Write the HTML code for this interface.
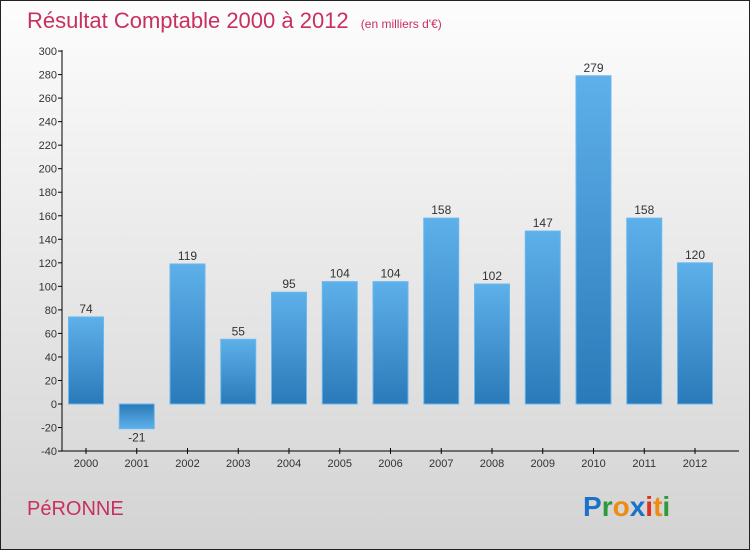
<!DOCTYPE html>
<html><head><meta charset="utf-8"><style>
body{margin:0}
#c{position:relative;width:748px;height:548px;border:1px solid #222;background:linear-gradient(#fdfdfd,#f0f0f0 30%,#d3d3d3);font-family:"Liberation Sans",sans-serif;overflow:hidden}
</style></head><body>
<div id="c">
<svg width="748" height="548">
<defs>
<linearGradient id="gp" x1="0" y1="0" x2="0" y2="1"><stop offset="0" stop-color="#5eb0ea"/><stop offset="1" stop-color="#2a7ab9"/></linearGradient>
<linearGradient id="gn" x1="0" y1="0" x2="0" y2="1"><stop offset="0" stop-color="#2a7ab9"/><stop offset="1" stop-color="#5eb0ea"/></linearGradient>
</defs>
<text x="26" y="27" font-size="22" fill="#c8305f">Résultat Comptable 2000 à 2012 <tspan font-size="12" dx="6">(en milliers d'€)</tspan></text>
<g id="axes"></g><g id="bars"></g>
<text x="26" y="514" font-size="20" fill="#c8305f">PéRONNE</text>
<text x="582" y="515" font-size="28" font-weight="bold"><tspan fill="#1a73c9">P</tspan><tspan fill="#2e9a3c">r</tspan><tspan fill="#f08a10">o</tspan><tspan fill="#1a73c9">x</tspan><tspan fill="#e03020">i</tspan><tspan fill="#f08a10">t</tspan><tspan fill="#2e9a3c">i</tspan></text>
</svg></div>
<script>
const categories=["2000","2001","2002","2003","2004","2005","2006","2007","2008","2009","2010","2011","2012"];
const values=[74,-21,119,55,95,104,104,158,102,147,279,158,120];
const tickValues=[-40,-20,0,20,40,60,80,100,120,140,160,180,200,220,240,260,280,300];
const NS="http://www.w3.org/2000/svg";
const y=v=>403-v*400/340;
const x=i=>85+i*50.75;
function mk(t,a,p){const e=document.createElementNS(NS,t);for(const k in a)e.setAttribute(k,a[k]);p.appendChild(e);return e;}
const ax=document.getElementById('axes'),bg=document.getElementById('bars');
let l=mk('line',{x1:61,y1:49,x2:61,y2:450,stroke:'#000'},ax);


l=mk('line',{x1:61,y1:450,x2:738,y2:450,stroke:'#000'},ax);


tickValues.forEach(v=>{
 const t=mk('line',{x1:57,x2:61,y1:y(v),y2:y(v),stroke:'#000'},ax);
 
 
 const tx=mk('text',{x:56,y:y(v)+4,'font-size':11,fill:'#333','text-anchor':'end'},ax);
 tx.textContent=v;
 
 
});
categories.forEach((c,i)=>{
 const cx=x(i),v=values[i];
 const t=mk('line',{x1:cx,x2:cx,y1:447,y2:453,stroke:'#000'},ax);
 
 
 const tx=mk('text',{x:cx,y:466,'font-size':11,fill:'#333','text-anchor':'middle'},ax);
 tx.textContent=c;
 
 
 const top=Math.min(y(v),y(0)),h=Math.abs(y(v)-y(0));
 const r=mk('rect',{x:cx-17.5,y:top,width:35,height:h,fill:v>=0?'url(#gp)':'url(#gn)',stroke:'#6ab8ee','stroke-width':1},bg);
 
 
 const lb=mk('text',{x:cx,y:v>=0?y(v)-4:y(v)+13,'font-size':12,fill:'#333','text-anchor':'middle'},bg);
 lb.textContent=v;
 
 
});
</script>
</body></html>
